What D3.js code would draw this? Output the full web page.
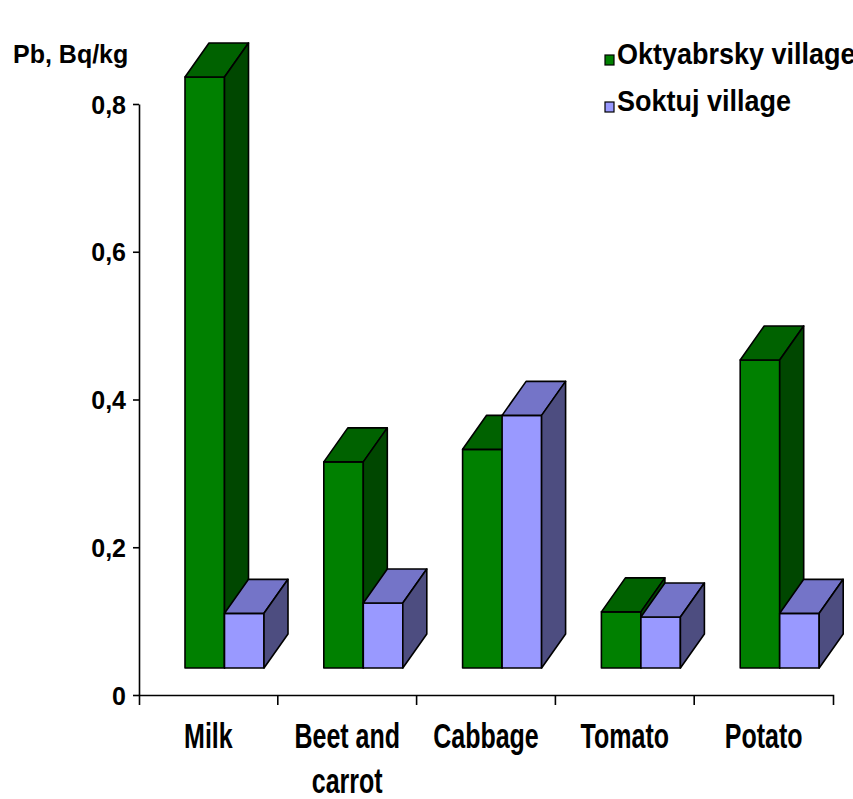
<!DOCTYPE html>
<html>
<head>
<meta charset="utf-8">
<script src="https://cdn.jsdelivr.net/npm/d3@7"></script>
<style>
  body { margin: 0; background: #fff; }
  text { font-family: "Liberation Sans", Arial, sans-serif; font-weight: bold; fill: #000; }
</style>
</head>
<body>
<script>
// values (Bq/kg)
var categories = ["Milk", "Beet and carrot", "Cabbage", "Tomato", "Potato"];
var categoryLines = [["Milk"], ["Beet and", "carrot"], ["Cabbage"], ["Tomato"], ["Potato"]];
var oktyabrsky = [0.80, 0.279, 0.296, 0.076, 0.417];
var soktuj = [0.074, 0.088, 0.342, 0.069, 0.074];
var seriesNames = ["Oktyabrsky village", "Soktuj village"];
var yTicks = [0, 0.2, 0.4, 0.6, 0.8];

var width = 853, height = 799;

// colours: front, top, side
var colors = [
  { front: "#008000", top: "#006200", side: "#004700" },
  { front: "#9999ff", top: "#7474c8", side: "#4d4d80" }
];

// 3D depth offset and floor lift
var dx = 24, dy = 34, lift = 27;

let svg = d3.select("body").append("svg")
  .attr("width", width)
  .attr("height", height);

// Set up scales
let yScale = d3.scaleLinear()
  .domain([0, 0.8])
  .range([695, 104]);

let xScale = d3.scaleBand()
  .domain(categories)
  .range([139, 833])
  .padding(0);

let sScale = d3.scaleBand()
  .domain(seriesNames)
  .range([46, 125]);

// bars, green first so the purple covers its side
let data = categories.map(function(c, i) {
  return [
    { cat: c, s: 0, v: oktyabrsky[i] },
    { cat: c, s: 1, v: soktuj[i] }
  ];
});

let groups = svg.selectAll("g.cat")
  .data(data)
  .enter().append("g")
  .attr("class", "cat");

let bars = groups.selectAll("g.bar")
  .data(function(d) { return d; })
  .enter().append("g")
  .attr("class", "bar")
  .each(function(d) {
    var g = d3.select(this);
    var x = xScale(d.cat) + sScale(seriesNames[d.s]);
    var w = sScale.bandwidth();
    var top = yScale(d.v) - lift;
    var bottom = yScale(0) - lift;
    var c = colors[d.s];

    g.append("rect")
      .attr("x", x).attr("y", top)
      .attr("width", w).attr("height", bottom - top)
      .attr("fill", c.front);
    g.append("path")
      .attr("d", "M" + x + "," + top + "L" + (x + dx) + "," + (top - dy) +
        "L" + (x + w + dx) + "," + (top - dy) + "L" + (x + w) + "," + top + "Z")
      .attr("fill", c.top);
    g.append("path")
      .attr("d", "M" + (x + w) + "," + top + "L" + (x + w + dx) + "," + (top - dy) +
        "L" + (x + w + dx) + "," + (bottom - dy) + "L" + (x + w) + "," + bottom + "Z")
      .attr("fill", c.side);
  });

bars.selectAll("rect, path")
  .attr("stroke", "#000")
  .attr("stroke-width", 1.6)
  .attr("stroke-linejoin", "round");

// y axis
let yAxis = d3.axisLeft(yScale)
  .tickValues(yTicks)
  .tickSize(6)
  .tickSizeOuter(0)
  .tickPadding(7)
  .tickFormat(function(d) { return d === 0 ? "0" : d3.format(".1f")(d).replace(".", ","); });

let yg = svg.append("g")
  .attr("transform", "translate(139,0)")
  .call(yAxis);
yg.select(".domain").attr("stroke", "#000").attr("stroke-width", 1.6);
yg.selectAll(".tick line").attr("stroke", "#000").attr("stroke-width", 1.6);
yg.selectAll(".tick text")
  .attr("font-size", 25)
  .attr("dy", "0.36em")
  .attr("font-family", null);

// x axis: line with ticks between categories
let xg = svg.append("g")
  .attr("transform", "translate(0," + yScale(0) + ")")
  .call(d3.axisBottom(xScale).tickSize(0).tickSizeOuter(10).tickFormat(""));
xg.select(".domain").attr("stroke", "#000").attr("stroke-width", 1.6);

xg.selectAll("line.sep")
  .data(categories.slice(1))
  .enter().append("line")
  .attr("class", "sep")
  .attr("x1", function(d) { return xScale(d); })
  .attr("x2", function(d) { return xScale(d); })
  .attr("y1", 0).attr("y2", 10)
  .attr("stroke", "#000").attr("stroke-width", 1.6);

// category labels
let labels = svg.selectAll("text.cat")
  .data(categories)
  .enter().append("text")
  .attr("class", "cat")
  .attr("text-anchor", "middle")
  .attr("font-size", 25)
  .attr("transform", function(d) {
    return "translate(" + (xScale(d) + xScale.bandwidth() / 2) + ",748) scale(1,1.38)";
  });

labels.selectAll("tspan")
  .data(function(d, i) { return categoryLines[i]; })
  .enter().append("tspan")
  .attr("x", 0)
  .attr("y", function(d, i) { return i * 32.6; })
  .text(function(d) { return d; });

// axis title
svg.append("text")
  .attr("x", 13)
  .attr("y", 63)
  .attr("font-size", 25)
  .text("Pb, Bq/kg");

// legend
let legend = svg.selectAll("g.legend")
  .data(seriesNames)
  .enter().append("g")
  .attr("class", "legend")
  .attr("transform", function(d, i) { return "translate(605," + (i === 0 ? 55 : 102) + ")"; });

legend.append("rect")
  .attr("width", 9)
  .attr("height", 10)
  .attr("fill", function(d, i) { return colors[i].front; })
  .attr("stroke", "#000")
  .attr("stroke-width", 1.2);

legend.append("text")
  .attr("font-size", 27)
  .attr("transform", "translate(12,9) scale(1,1.06)")
  .text(function(d) { return d; });
</script>
</body>
</html>
